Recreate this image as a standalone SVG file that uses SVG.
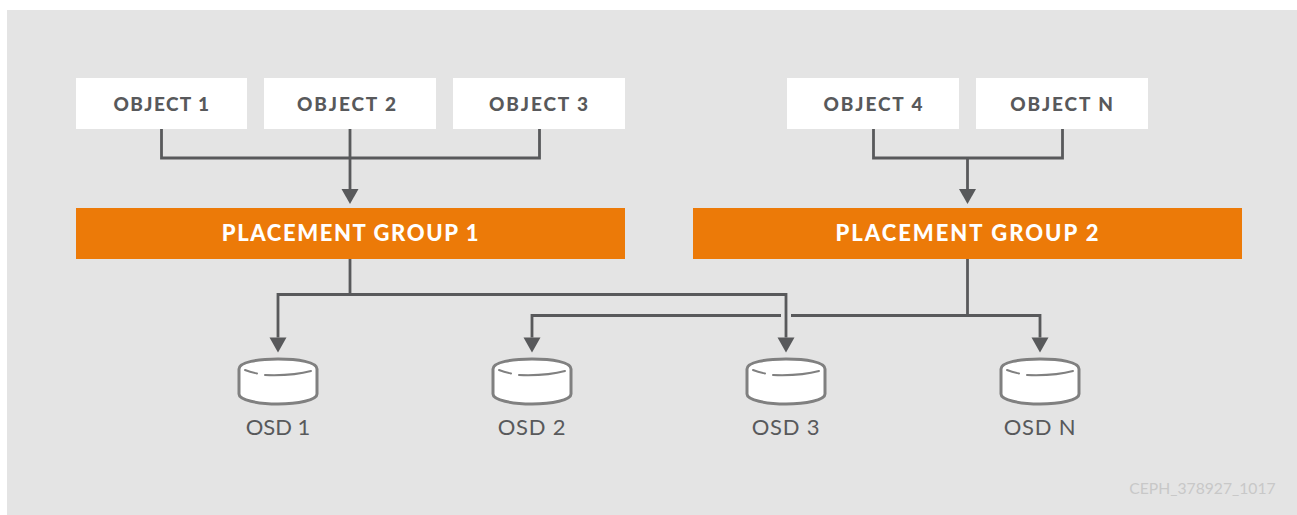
<svg xmlns="http://www.w3.org/2000/svg" width="1297" height="515" viewBox="0 0 1297 515">
<style>
text{font-family:"Lato","Liberation Sans",sans-serif;text-anchor:middle}
.obj{fill:#fff}
.pg{fill:#ec7a08}
.ot{font-size:19px;font-weight:900;fill:#58595b;letter-spacing:1.9px}
.pt{font-size:22px;font-weight:900;fill:#fff;letter-spacing:1.6px}
.ol{font-size:22px;fill:#58595b;letter-spacing:.8px}
.ln{fill:none;stroke:#58595b;stroke-width:2.800}
.dk{fill:#fff;stroke:#808080;stroke-width:3;stroke-linejoin:round}
.dl{fill:none;stroke:#808080;stroke-width:2;stroke-linecap:round}
</style>
<defs>
<marker id="arrow" markerUnits="userSpaceOnUse" markerWidth="15" markerHeight="17" refX="0" refY="8.500" orient="auto" viewBox="0 0 15 17" overflow="visible">
<path d="M0 0L15 8.500L0 17Z" fill="#58595b"/>
</marker>
<g id="disk">
<path class="dk" d="M-39 -16C-39 -23 -20 -26 0 -26S39 -23 39 -16V9C39 15 20 19 0 19S-39 15-39 9Z"/>
<path class="dl" d="M-33 -15Q-28 -13 -21 -11.500M-13 -10Q15 -9 33 -14"/>
</g>
</defs>
<rect x="7" y="10" width="1290" height="505" fill="#e4e4e4"/>
<g id="connectors">
<path class="ln" d="M161.500 129V158H539.500V129M350 129V158"/>
<path class="ln" d="M350 158V189" marker-end="url(#arrow)"/>
<path class="ln" d="M873.500 129V158H1062.500V129"/>
<path class="ln" d="M967.500 158V189" marker-end="url(#arrow)"/>
<path class="ln" d="M350 259V294.500"/>
<path class="ln" d="M786 294.500H278V337.500" marker-end="url(#arrow)"/>
<path class="ln" d="M350 294.500H786V337.500" marker-end="url(#arrow)"/>
<path class="ln" d="M967.500 259V315.500"/>
<path class="ln" d="M781 315.500H532V337.500" marker-end="url(#arrow)"/>
<path class="ln" d="M791 315.500H1040V337.500" marker-end="url(#arrow)"/>
</g>
<g id="object-1"><rect class="obj" x="76" y="78" width="171" height="51"/><text class="ot" x="162" y="110.500" style="letter-spacing:1.400px">OBJECT 1</text></g>
<g id="object-2"><rect class="obj" x="264" y="78" width="172" height="51"/><text class="ot" x="347.500" y="110.500">OBJECT 2</text></g>
<g id="object-3"><rect class="obj" x="453" y="78" width="172" height="51"/><text class="ot" x="539.500" y="110.500">OBJECT 3</text></g>
<g id="object-4"><rect class="obj" x="787" y="78" width="172" height="51"/><text class="ot" x="874" y="110.500">OBJECT 4</text></g>
<g id="object-n"><rect class="obj" x="976" y="78" width="172" height="51"/><text class="ot" x="1062.500" y="110.500">OBJECT N</text></g>
<g id="placement-group-1"><rect class="pg" x="76" y="208" width="549" height="51"/><text class="pt" x="351" y="241">PLACEMENT GROUP 1</text></g>
<g id="placement-group-2"><rect class="pg" x="693" y="208" width="549" height="51"/><text class="pt" x="968" y="241" style="letter-spacing:2px">PLACEMENT GROUP 2</text></g>
<g id="osd-1"><use href="#disk" x="278" y="385"/><text class="ol" x="278" y="434.500" style="letter-spacing:0">OSD 1</text></g>
<g id="osd-2"><use href="#disk" x="532" y="385"/><text class="ol" x="532" y="434.500">OSD 2</text></g>
<g id="osd-3"><use href="#disk" x="786" y="385"/><text class="ol" x="786" y="434.500">OSD 3</text></g>
<g id="osd-n"><use href="#disk" x="1040" y="385"/><text class="ol" x="1040" y="434.500">OSD N</text></g>
<text x="1202.500" y="494" style="font-size:15.700px;fill:#c8c8c8">CEPH_378927_1017</text>
</svg>
